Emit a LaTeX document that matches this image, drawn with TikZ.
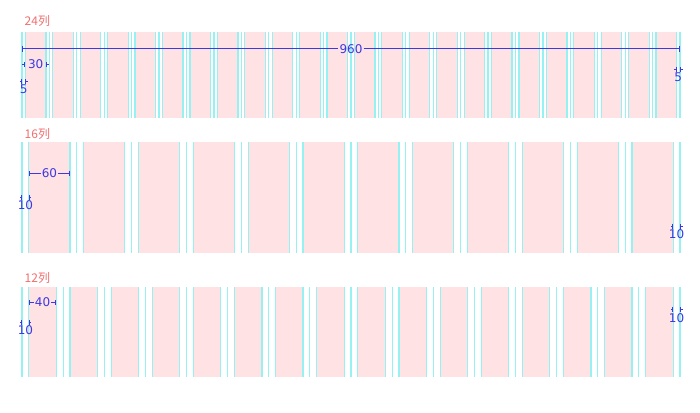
\documentclass[tikz,border=0pt]{standalone}
\usepackage{fontspec}
\setmainfont{DejaVu Sans}
\newfontfamily\cjk{Noto Sans CJK SC}
\usepackage{xcolor}
\usetikzlibrary{arrows.meta,calc}
\definecolor{colpink}{RGB}{255,226,228}
\definecolor{gridcyan}{RGB}{150,242,242}
\definecolor{dimblue}{RGB}{60,56,226}
\definecolor{labred}{RGB}{240,112,112}

\begin{document}
\begin{tikzpicture}[x=1pt,y=-1pt,
  every node/.style={font=\fontsize{12}{12}\selectfont,inner sep=1pt},
  colbox/.style={fill=colpink},
  colline/.style={draw=gridcyan,line width=1.2pt},
  dimln/.style={draw=dimblue,line width=1pt,>={Bar[width=5pt]}},
  dimtxt/.style={text=dimblue},
  rowlab/.style={text=labred,font=\cjk\fontsize{12}{12}\selectfont,anchor=west}]
\useasboundingbox (0,0) rectangle (700,412);
\fill[white] (0,0) rectangle (700,412);

% row labels
\node[rowlab] (lab24) at (23.5,21) {24列};
\node[rowlab] (lab16) at (23.5,133.5) {16列};
\node[rowlab] (lab12) at (23.5,278) {12列};

% 24 columns
\begin{scope}[xshift=22pt,x=0.68542pt]
\foreach \i in {0,...,23}{
  \fill[colbox] (\i*40+5,32) rectangle (\i*40+35,118);
  \draw[colline] (\i*40,32) -- (\i*40,118)
    (\i*40+5,32) -- (\i*40+5,118)
    (\i*40+35,32) -- (\i*40+35,118);
}
\draw[colline] (960,32) -- (960,118);
\coordinate (w0) at (0,49);
\coordinate (w1) at (960,49);
\node[dimtxt] (t960) at (480,49) {960};
\draw[dimln,<-] (w0) -- (t960.west);
\draw[dimln,->] (t960.east) -- (w1);
\coordinate (c30a) at (5,64.5);
\coordinate (c30b) at (35,64.5);
\node[dimtxt] (t30) at (20,64.5) {30};
\draw[dimln,<-] (c30a) -- +(-3pt,0);
\draw[dimln,<-] (c30b) -- +(3pt,0);
\coordinate (m5a) at (0,81);
\coordinate (m5b) at (5,81);
\draw[dimln,<-] (m5a) -- +(-2.5pt,0);
\draw[dimln,<-] (m5b) -- +(2.5pt,0);
\node[dimtxt] (t5l) at (2.5,89) {5};
\coordinate (r5a) at (955,69);
\coordinate (r5b) at (960,69);
\draw[dimln,<-] (r5a) -- +(-2.5pt,0);
\draw[dimln,<-] (r5b) -- +(2.5pt,0);
\node[dimtxt] (t5r) at (957.5,77) {5};
\end{scope}

% 16 columns
\begin{scope}[xshift=22pt,x=0.68542pt]
\foreach \i in {0,...,11}{
  \fill[colbox] (\i*80+10,142) rectangle (\i*80+70,253);
  \draw[colline] (\i*80,142) -- (\i*80,253)
    (\i*80+10,142) -- (\i*80+10,253)
    (\i*80+70,142) -- (\i*80+70,253);
}
\draw[colline] (960,142) -- (960,253);
\coordinate (c60a) at (10,173);
\coordinate (c60b) at (70,173);
\node[dimtxt] (t60) at (40,173) {60};
\draw[dimln,<-] (c60a) -- (t60.west);
\draw[dimln,->] (t60.east) -- (c60b);
\coordinate (m10a) at (0,197);
\coordinate (m10b) at (10,197);
\draw[dimln,<-] (m10a) -- +(-2.5pt,0);
\draw[dimln,<-] (m10b) -- +(2.5pt,0);
\node[dimtxt] (t10l) at (5,205) {10};
\coordinate (r10a) at (950,226);
\coordinate (r10b) at (960,226);
\draw[dimln,<-] (r10a) -- +(-2.5pt,0);
\draw[dimln,<-] (r10b) -- +(2.5pt,0);
\node[dimtxt] (t10r) at (955,234) {10};
\end{scope}

% 12 columns
\begin{scope}[xshift=22pt,x=0.68542pt]
\foreach \i in {0,...,15}{
  \fill[colbox] (\i*60+10,287) rectangle (\i*60+50,377);
  \draw[colline] (\i*60,287) -- (\i*60,377)
    (\i*60+10,287) -- (\i*60+10,377)
    (\i*60+50,287) -- (\i*60+50,377);
}
\draw[colline] (960,287) -- (960,377);
\coordinate (c40a) at (10,302.5);
\coordinate (c40b) at (50,302.5);
\node[dimtxt] (t40) at (30,302.5) {40};
\draw[dimln,<-] (c40a) -- (t40.west);
\draw[dimln,->] (t40.east) -- (c40b);
\coordinate (n10a) at (0,322);
\coordinate (n10b) at (10,322);
\draw[dimln,<-] (n10a) -- +(-2.5pt,0);
\draw[dimln,<-] (n10b) -- +(2.5pt,0);
\node[dimtxt] (u10l) at (5,330) {10};
\coordinate (s10a) at (950,309);
\coordinate (s10b) at (960,309);
\draw[dimln,<-] (s10a) -- +(-2.5pt,0);
\draw[dimln,<-] (s10b) -- +(2.5pt,0);
\node[dimtxt] (u10r) at (955,318) {10};
\end{scope}
\end{tikzpicture}
\end{document}
